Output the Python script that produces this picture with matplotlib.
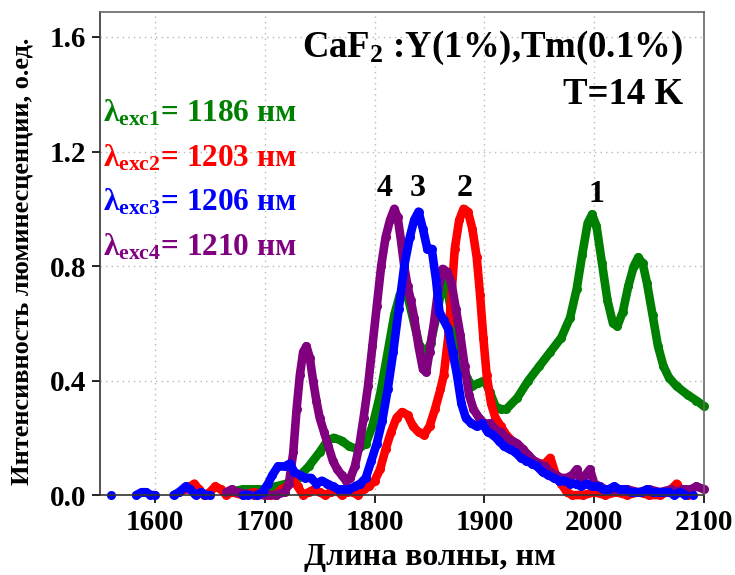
import matplotlib.pyplot as plt
import numpy as np

plt.rcParams['font.family'] = ['Liberation Serif', 'DejaVu Serif']
plt.rcParams['font.weight'] = 'bold'
plt.rcParams['mathtext.fontset'] = 'custom'
plt.rcParams['mathtext.rm'] = 'Liberation Serif:bold'
plt.rcParams['mathtext.it'] = 'Liberation Serif:bold'
plt.rcParams['mathtext.bf'] = 'Liberation Serif:bold'

nan = np.nan

# curve 1, excitation 1186 nm (green)
x1 = [1668, 1680, 1690, 1700, 1710, 1720, 1730, 1740, 1750, 1757, 1763, 1770, 1777, 1785, 1792,
      1798, 1805, 1812, 1818, 1823, 1827, 1831, 1836, 1841, 1846, 1851, 1856, 1861, 1865, 1869,
      1874, 1879, 1884, 1889, 1894, 1900, 1905, 1910, 1915, 1920, 1930, 1940, 1950, 1960, 1970,
      1978, 1984, 1989, 1994, 1998, 2002, 2007, 2012, 2017, 2021, 2026, 2031, 2036, 2040, 2044,
      2048, 2053, 2058, 2063, 2068, 2075, 2085, 2093, 2100]
y1 = [0.01, 0.02, 0.02, 0.02, 0.03, 0.04, 0.06, 0.10, 0.15, 0.19, 0.20, 0.19, 0.17, 0.16, 0.18,
      0.24, 0.35, 0.50, 0.63, 0.70, 0.72, 0.68, 0.60, 0.52, 0.49, 0.53, 0.62, 0.72, 0.74, 0.66,
      0.55, 0.46, 0.41, 0.38, 0.39, 0.40, 0.36, 0.31, 0.30, 0.30, 0.34, 0.40, 0.45, 0.50, 0.55,
      0.62, 0.72, 0.84, 0.95, 0.98, 0.94, 0.81, 0.68, 0.60, 0.59, 0.64, 0.73, 0.80, 0.83, 0.81,
      0.74, 0.63, 0.52, 0.45, 0.41, 0.38, 0.35, 0.33, 0.31]

# curve 2, excitation 1203 nm (red)
x2 = [1622, 1627, 1632, 1636, 1640, 1645, 1650, 1655, 1660, 1665, 1670, 1680, 1690, 1700, 1705,
      1710, 1715, 1720, 1725, 1730, 1735, 1740, 1745, 1750, 1755, 1760, 1765, 1770, 1775, 1780,
      1785, 1790, 1795, 1800, 1805, 1810, 1815, 1820, 1825, 1830, 1835, 1840, 1845, 1850, 1855,
      1860, 1863, 1867, 1870, 1873, 1877, 1881, 1885, 1889, 1893, 1896, 1899, 1902, 1906, 1910,
      1915, 1920, 1925, 1930, 1935, 1940, 1945, 1950, 1955, 1960, 1965, 1970, 1975, 1980, 1990,
      2000, 2010, 2020, 2030, 2040, 2050, 2060, 2066, 2070, 2075, 2080, 2085]
y2 = [0.01, 0.02, 0.03, 0.04, 0.02, 0.00, 0.01, 0.03, 0.02, 0.00, 0.01, 0.00, 0.01, 0.00, 0.00,
      0.00, 0.02, 0.03, 0.06, 0.03, 0.00, 0.01, 0.02, 0.01, 0.00, 0.01, 0.02, 0.00, 0.01, 0.01,
      0.00, 0.02, 0.03, 0.05, 0.09, 0.16, 0.22, 0.27, 0.29, 0.28, 0.24, 0.22, 0.21, 0.24, 0.30,
      0.37, 0.42, 0.55, 0.70, 0.86, 0.96, 1.00, 0.99, 0.93, 0.83, 0.70, 0.55, 0.42, 0.32, 0.27,
      0.24, 0.21, 0.19, 0.17, 0.15, 0.13, 0.12, 0.11, 0.11, 0.13, 0.07, 0.04, 0.01, 0.00, 0.00,
      0.01, 0.00, 0.01, 0.00, 0.01, 0.00, 0.00, 0.01, 0.02, 0.04, 0.01, 0.00]

# curve 3, excitation 1206 nm (blue), gaps where points are missing
x3 = [1560, nan, 1583, 1588, 1592, 1596, 1600, nan, 1617, 1622, 1628, 1632, 1637, 1642, 1646,
      1650, nan, 1680, 1685, nan, 1693, 1698, 1703, 1707, 1712, 1718, 1723, 1727, 1732, 1737,
      1742, 1747, 1752, 1757, 1762, 1767, 1772, 1777, 1782, 1787, 1792, 1797, 1802, 1807, 1812,
      1817, 1822, 1827, 1832, 1836, 1840, 1844, 1848, 1852, 1856, 1859, 1863, 1867, 1871, 1875,
      1879, 1883, 1888, 1893, 1898, 1903, 1908, 1913, 1918, 1923, 1928, 1933, 1938, 1943, 1948,
      1953, 1958, 1963, 1968, 1973, 1978, 1983, 1988, 1993, 1998, 2003, 2008, 2013, 2018, 2023,
      2028, 2033, 2038, 2043, 2048, 2053, 2058, 2063, 2068, 2073, 2078, 2083, nan, 2090]
y3 = [0.00, nan, 0.00, 0.01, 0.01, 0.00, 0.00, nan, 0.00, 0.01, 0.03, 0.02, 0.00, 0.01, 0.00,
      0.00, nan, 0.00, 0.00, nan, 0.00, 0.01, 0.04, 0.07, 0.10, 0.10, 0.11, 0.08, 0.07, 0.06,
      0.06, 0.04, 0.05, 0.04, 0.03, 0.02, 0.02, 0.02, 0.03, 0.04, 0.06, 0.12, 0.18, 0.26, 0.37,
      0.50, 0.65, 0.80, 0.90, 0.96, 0.99, 0.93, 0.86, 0.86, 0.75, 0.64, 0.61, 0.58, 0.50, 0.42,
      0.32, 0.27, 0.25, 0.24, 0.25, 0.22, 0.21, 0.19, 0.17, 0.16, 0.15, 0.13, 0.12, 0.11, 0.10,
      0.08, 0.07, 0.06, 0.05, 0.05, 0.04, 0.04, 0.03, 0.04, 0.03, 0.03, 0.02, 0.02, 0.03, 0.02,
      0.02, 0.01, 0.01, 0.01, 0.02, 0.01, 0.01, 0.01, 0.01, 0.00, 0.01, 0.00, nan, 0.00]

# curve 4, excitation 1210 nm (purple)
x4 = [1665, 1670, 1675, 1690, 1700, 1710, 1718, 1722, 1726, 1729, 1732, 1735, 1738, 1741, 1744,
      1747, 1750, 1754, 1758, 1762, 1766, 1770, 1774, 1778, 1782, 1786, 1790, 1794, 1798, 1802,
      1806, 1810, 1814, 1818, 1821, 1824, 1827, 1830, 1833, 1836, 1840, 1844, 1847, 1850, 1854,
      1858, 1862, 1866, 1870, 1874, 1878, 1882, 1886, 1890, 1895, 1900, 1905, 1910, 1915, 1920,
      1925, 1930, 1935, 1940, 1945, 1950, 1955, 1960, 1965, 1970, 1975, 1980, 1984, 1988, 1992,
      1996, 2000, 2005, 2010, 2020, 2030, 2040, 2050, 2060, 2070, 2075, 2080, 2088, 2093, 2100]
y4 = [0.01, 0.02, 0.01, 0.00, 0.00, 0.00, 0.01, 0.04, 0.15, 0.30, 0.42, 0.50, 0.52, 0.48, 0.40,
      0.33, 0.27, 0.22, 0.17, 0.12, 0.09, 0.07, 0.05, 0.06, 0.10, 0.17, 0.27, 0.38, 0.52, 0.66,
      0.80, 0.90, 0.96, 1.00, 0.97, 0.89, 0.80, 0.73, 0.68, 0.62, 0.52, 0.44, 0.43, 0.50, 0.60,
      0.72, 0.79, 0.78, 0.74, 0.65, 0.56, 0.45, 0.35, 0.30, 0.27, 0.25, 0.25, 0.23, 0.22, 0.20,
      0.19, 0.18, 0.16, 0.14, 0.12, 0.11, 0.10, 0.08, 0.07, 0.06, 0.06, 0.07, 0.09, 0.05, 0.07,
      0.09, 0.04, 0.03, 0.02, 0.02, 0.02, 0.01, 0.02, 0.01, 0.02, 0.01, 0.02, 0.02, 0.03, 0.02]

legend_labels = [r'$\lambda_{exc1}$= 1186 нм', r'$\lambda_{exc2}$= 1203 нм',
                 r'$\lambda_{exc3}$= 1206 нм', r'$\lambda_{exc4}$= 1210 нм']
peak_labels = ['1', '2', '3', '4']
peak_x = [2002, 1882, 1839, 1809]
peak_y = [1.0, 1.02, 1.02, 1.02]

colors = ['#008000', '#ff0000', '#0000ff', '#800080']

fig = plt.figure(figsize=(7.35, 5.75), dpi=100)
ax = fig.add_axes([0.136, 0.139, 0.822, 0.840])

curves = [(x1, y1), (x2, y2), (x4, y4), (x3, y3)]
cols = [colors[0], colors[1], colors[3], colors[2]]
for (xs, ys), c in zip(curves, cols):
    ax.plot(xs, ys, color=c, lw=6.2, marker='o', ms=6.5, mew=0,
            solid_capstyle='round', solid_joinstyle='round', clip_on=False)

ax.set_xlim(1550, 2100)
ax.set_ylim(0, 1.687)
ax.set_xticks([1600, 1700, 1800, 1900, 2000, 2100])
ax.set_yticks([0.0, 0.4, 0.8, 1.2, 1.6])
ax.set_yticklabels(['0.0', '0.4', '0.8', '1.2', '1.6'])
ax.tick_params(direction='out', length=6, width=1.2, labelsize=21, pad=4)
ax.grid(True, color='#b8b8b8', linestyle=(0, (1, 3)), linewidth=1)
ax.set_axisbelow(True)
for name, s in ax.spines.items():
    s.set_linewidth(1.2)
    s.set_color('#333333' if name in ('left', 'bottom') else '#666666')

ax.set_xlabel('Длина волны, нм', fontsize=23, fontweight='bold')
ax.xaxis.set_label_coords(0.546, -0.10)
ax.set_ylabel('Интенсивность люминесценции, о.ед.', fontsize=19, fontweight='bold')
ax.yaxis.set_label_coords(-0.11, 0.485)

ax.text(0.965, 0.965, r'CaF$_2$ :Y(1%),Tm(0.1%)', transform=ax.transAxes, ha='right', va='top',
        fontsize=26.5, fontweight='bold')
ax.text(0.965, 0.865, 'T=14 K', transform=ax.transAxes, ha='right', va='top',
        fontsize=26.5, fontweight='bold')

for i, lab in enumerate(legend_labels):
    ax.text(0.005, 0.79 - i * 0.092, lab, transform=ax.transAxes, ha='left', va='center',
            fontsize=22.5, fontweight='bold', color=colors[i])

for lab, px, py in zip(peak_labels, peak_x, peak_y):
    ax.text(px, py, lab, ha='center', va='bottom', fontsize=23, fontweight='bold')

fig.savefig('out.png', dpi=100)
